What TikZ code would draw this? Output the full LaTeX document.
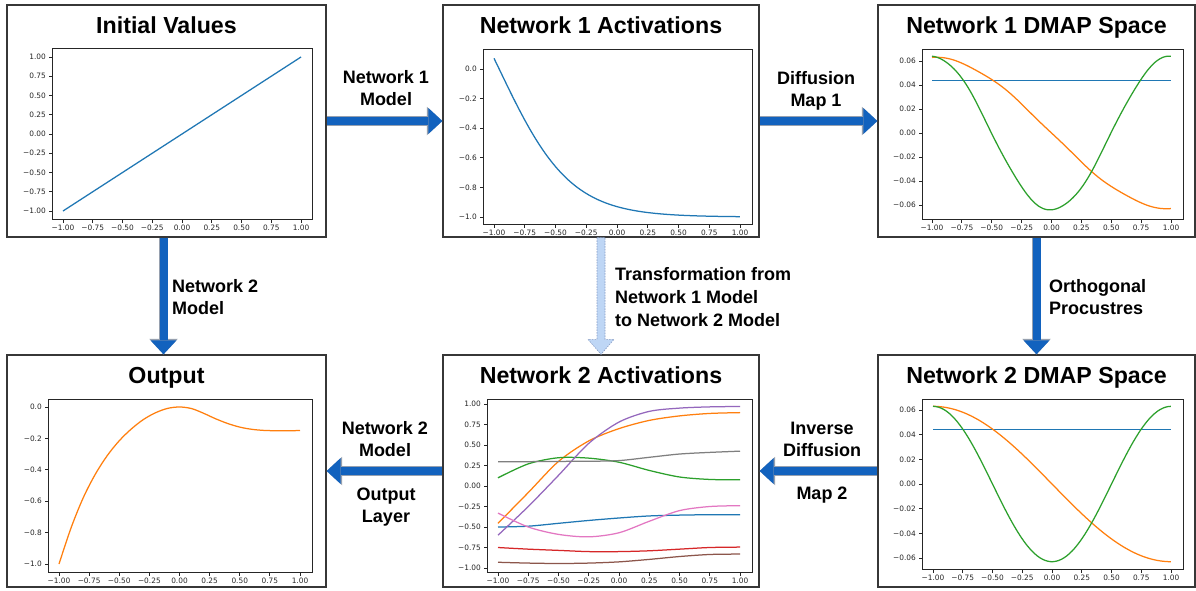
\documentclass[tikz,border=0pt]{standalone}
\usepackage{fontspec}
\setmainfont{Liberation Sans}
\newfontfamily\tickfont{DejaVu Sans}
\usetikzlibrary{arrows.meta,calc}
\definecolor{arrowblue}{RGB}{18,98,190}
\definecolor{arrowedge}{RGB}{150,160,175}
\definecolor{lightfill}{RGB}{190,214,245}
\definecolor{lightedge}{RGB}{135,155,195}
\definecolor{framegray}{RGB}{55,55,55}
\definecolor{mC0}{HTML}{1F77B4}
\definecolor{mC1}{HTML}{FF7F0E}
\definecolor{mC2}{HTML}{2CA02C}
\definecolor{mC3}{HTML}{D62728}
\definecolor{mC4}{HTML}{9467BD}
\definecolor{mC5}{HTML}{8C564B}
\definecolor{mC6}{HTML}{E377C2}
\definecolor{mC7}{HTML}{7F7F7F}
\tikzset{
  panel/.style={draw=framegray, line width=1.3pt, minimum width=#1, minimum height=232pt, inner sep=0pt},
  title/.style={font=\fontsize{23.2}{27}\selectfont\bfseries, anchor=base, inner sep=0pt},
  lbl/.style={font=\fontsize{18}{22}\selectfont\bfseries, inner sep=0pt, align=center},
  lbll/.style={font=\fontsize{18}{22}\selectfont\bfseries, inner sep=0pt, align=left, anchor=west},
  axframe/.style={draw=black!85, line width=0.8pt},
  tickln/.style={draw=black!85, line width=0.8pt},
  ticklbl/.style={font=\tickfont\fontsize{7.4}{8}\selectfont, text=black!85, inner sep=0pt},
  curve/.style={line width=1.25pt, line join=round},
  bigarrow/.style={draw=arrowblue, line width=8pt,
    -{Triangle[width=26pt,length=14pt,line width=0pt]},
    preaction={draw=arrowedge, line width=9.6pt, -{Triangle[width=28.5pt,length=15.5pt,line width=0pt]}}},
  lightarrow/.style={fill=lightfill, draw=lightedge, line width=0.6pt, dash pattern=on 1.5pt off 1.2pt}
}
\def\xlist{-1/−1.00,-0.75/−0.75,-0.5/−0.50,-0.25/−0.25,0/0.00,0.25/0.25,0.5/0.50,0.75/0.75,1/1.00}
\def\ylistA{1/1.00,0.75/0.75,0.5/0.50,0.25/0.25,0/0.00,-0.25/−0.25,-0.5/−0.50,-0.75/−0.75,-1/−1.00}
\def\ylistB{0/0.0,-0.2/−0.2,-0.4/−0.4,-0.6/−0.6,-0.8/−0.8,-1/−1.0}
\def\ylistC{0.06/0.06,0.04/0.04,0.02/0.02,0/0.00,-0.02/−0.02,-0.04/−0.04,-0.06/−0.06}
% #1 id, #2 x0, #3 sx, #4 frame bottom
\newcommand\myxticks[4]{%
  \foreach \t/\l [count=\i] in \xlist {%
    \draw[tickln] ({#2+#3*(\t)},#4) -- ++(0,3.5);
    \node[ticklbl,anchor=north] (#1x\i) at ({#2+#3*(\t)},{#4+5.5}) {\l};}}
% #1 id, #2 y0, #3 sy, #4 frame left, #5 list
\newcommand\myyticks[5]{%
  \foreach \t/\l [count=\i] in #5 {%
    \draw[tickln] (#4,{#2-#3*(\t)}) -- ++(-3.5,0);
    \node[ticklbl,anchor=east] (#1y\i) at ({#4-6},{#2-#3*(\t)}) {\l};}}
\begin{document}
\begin{tikzpicture}[x=1pt,y=-1pt]
\useasboundingbox (0,0) rectangle (1196,590);
\fill[white] (0,0) rectangle (1196,590);

% panels
\node[panel=319pt] (p1) at (166.5,121) {};
\node[panel=316pt] (p2) at (601,121) {};
\node[panel=317pt] (p3) at (1036.5,121) {};
\node[panel=319pt] (p4) at (166.5,471) {};
\node[panel=316pt] (p5) at (601,471) {};
\node[panel=317pt] (p6) at (1036.5,471) {};

% titles
\node[title] (t1) at (166.5,33.5) {Initial Values};
\node[title] (t2) at (601,33.5) {Network 1 Activations};
\node[title] (t3) at (1036.5,33.5) {Network 1 DMAP Space};
\node[title] (t4) at (166.5,383.5) {Output};
\node[title] (t5) at (601,383.5) {Network 2 Activations};
\node[title] (t6) at (1036.5,383.5) {Network 2 DMAP Space};

% ---- plot 1: Initial Values
\draw[axframe] (52,48) rectangle (312,219);
\myxticks{a}{182}{119}{219}
\myyticks{a}{134}{77}{52}{\ylistA}
\begin{scope}[shift={(182,134)},xscale=119,yscale=-77]
  \draw[curve,mC0] (-1,-1) -- (1,1);
\end{scope}

% ---- plot 2: Network 1 Activations
\draw[axframe] (483,49) rectangle (752,224);
\myxticks{b}{617}{123}{224}
\myyticks{b}{69}{148}{483}{\ylistB}
\begin{scope}[shift={(617,69)},xscale=123,yscale=-148]
  \draw[curve,mC0] plot[domain=-1:1,samples=90] (\x,{-tanh(1.73*(\x+0.958))});
\end{scope}

% ---- plot 3: Network 1 DMAP Space
\draw[axframe] (922,49) rectangle (1183,219);
\myxticks{c}{1051.5}{119.5}{219}
\myyticks{c}{133}{1200}{922}{\ylistC}
\begin{scope}[shift={(1051.5,133)},xscale=119.5,yscale=-1200]
  \draw[curve,mC0] (-1,0.044) -- (1,0.044);
  \draw[curve,mC1] plot[domain=-1:1,samples=90] (\x,{-0.063*sin(90*\x)+0.0005*sin(720*\x)});
  \draw[curve,mC2] plot[domain=-1:1,samples=120] (\x,{-0.064*cos(180*\x)+0.0006*sin(900*\x)});
\end{scope}

% ---- plot 4: Output
\draw[axframe] (48,399) rectangle (312,572);
\myxticks{d}{179.5}{120.5}{572}
\myyticks{d}{407}{157}{48}{\ylistB}
\begin{scope}[shift={(179.5,407)},xscale=120.5,yscale=-157]
  \draw[curve,mC1] plot[smooth,tension=0.55] coordinates {(-1,-1) (-0.9,-0.77) (-0.8,-0.58) (-0.7,-0.43) (-0.6,-0.31) (-0.5,-0.215) (-0.4,-0.14) (-0.3,-0.08) (-0.2,-0.037) (-0.1,-0.009) (0,0) (0.1,-0.01) (0.2,-0.04) (0.3,-0.075) (0.4,-0.105) (0.5,-0.128) (0.6,-0.142) (0.7,-0.149) (0.8,-0.151) (0.9,-0.151) (1,-0.15)};
\end{scope}

% ---- plot 5: Network 2 Activations
\draw[axframe] (487,399) rectangle (752,572);
\myxticks{e}{619}{121}{572}
\myyticks{e}{486}{82}{487}{\ylistA}
\begin{scope}[shift={(619,486)},xscale=121,yscale=-82]
  \draw[curve,mC0] plot[smooth] coordinates {(-1,-0.50) (-0.75,-0.49) (-0.5,-0.455) (-0.25,-0.42) (0,-0.39) (0.25,-0.365) (0.5,-0.355) (0.75,-0.35) (1,-0.35)};
  \draw[curve,mC1] plot[smooth] coordinates {(-1,-0.455) (-0.75,-0.08) (-0.5,0.30) (-0.25,0.55) (0,0.70) (0.25,0.80) (0.5,0.855) (0.75,0.885) (1,0.895)};
  \draw[curve,mC2] plot[smooth] coordinates {(-1,0.10) (-0.75,0.27) (-0.5,0.345) (-0.25,0.34) (0,0.29) (0.25,0.19) (0.5,0.11) (0.75,0.08) (1,0.075)};
  \draw[curve,mC3] plot[smooth] coordinates {(-1,-0.75) (-0.75,-0.77) (-0.5,-0.785) (-0.25,-0.80) (0,-0.80) (0.25,-0.79) (0.5,-0.77) (0.75,-0.75) (1,-0.745)};
  \draw[curve,mC4] plot[smooth] coordinates {(-1,-0.60) (-0.75,-0.25) (-0.5,0.13) (-0.25,0.52) (0,0.78) (0.25,0.91) (0.5,0.95) (0.75,0.965) (1,0.97)};
  \draw[curve,mC5] plot[smooth] coordinates {(-1,-0.93) (-0.75,-0.94) (-0.5,-0.945) (-0.25,-0.94) (0,-0.925) (0.25,-0.895) (0.5,-0.86) (0.75,-0.835) (1,-0.83)};
  \draw[curve,mC6] plot[smooth] coordinates {(-1,-0.33) (-0.75,-0.50) (-0.5,-0.59) (-0.25,-0.62) (0,-0.57) (0.25,-0.43) (0.5,-0.30) (0.75,-0.25) (1,-0.24)};
  \draw[curve,mC7] plot[smooth] coordinates {(-1,0.295) (-0.75,0.297) (-0.5,0.30) (-0.25,0.302) (0,0.31) (0.25,0.35) (0.5,0.39) (0.75,0.41) (1,0.425)};
\end{scope}

% ---- plot 6: Network 2 DMAP Space
\draw[axframe] (922,399) rectangle (1183,569);
\myxticks{f}{1052}{119}{569}
\myyticks{f}{484}{1233}{922}{\ylistC}
\begin{scope}[shift={(1052,484)},xscale=119,yscale=-1233]
  \draw[curve,mC0] (-1,0.0445) -- (1,0.0445);
  \draw[curve,mC1] plot[domain=-1:1,samples=90] (\x,{-0.063*sin(90*\x)});
  \draw[curve,mC2] plot[domain=-1:1,samples=90] (\x,{-0.063*cos(180*\x)});
\end{scope}

% ---- connectors
\draw[bigarrow] (p1.east) -- (p2.west);
\draw[bigarrow] (p2.east) -- (p3.west);
\draw[bigarrow] ([xshift=-3pt]p1.south) -- ([xshift=-3pt]p4.north);
\draw[bigarrow] (p3.south) -- (p6.north);
\draw[bigarrow] (p6.west) -- (p5.east);
\draw[bigarrow] (p5.west) -- (p4.east);
\draw[lightarrow] ($(p2.south)+(-4,0)$) -- ($(p5.north)+(-4,-15)$) -- ($(p5.north)+(-13,-15)$) -- (p5.north) -- ($(p5.north)+(13,-15)$) -- ($(p5.north)+(4,-15)$) -- ($(p2.south)+(4,0)$) -- cycle;

% ---- connector labels
\node[lbl] (l1) at (386,88.5) {Network 1\\Model};
\node[lbl] (l2) at (816,90.4) {Diffusion\\Map 1};
\node[lbll] (l3) at (172,297) {Network 2\\Model};
\node[lbll] (l4) at (1049,297) {Orthogonal\\Procustres};
\node[lbll,font=\fontsize{18}{23}\selectfont\bfseries] (l5) at (615,297.5) {Transformation from\\Network 1 Model\\to Network 2 Model};
\node[lbl] (l6) at (822,439) {Inverse\\Diffusion};
\node[lbl,anchor=base] (l7) at (822,499) {Map 2};
\node[lbl] (l8) at (385,439.5) {Network 2\\Model};
\node[lbl] (l9) at (386,507) {Output\\Layer};
\end{tikzpicture}
\end{document}
